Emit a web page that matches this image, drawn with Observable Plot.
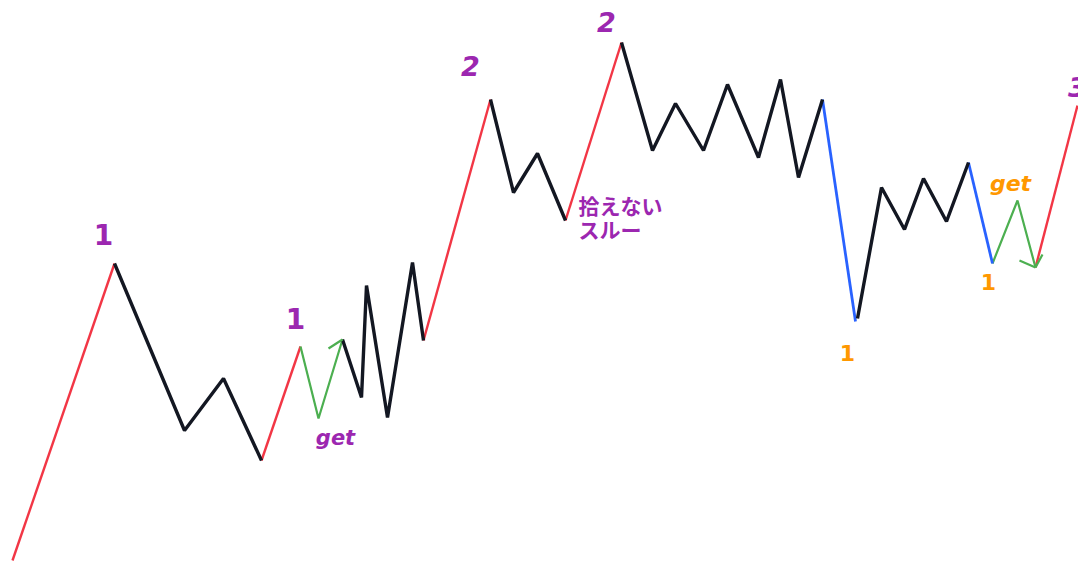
<!DOCTYPE html>
<html>
<head>
<meta charset="utf-8">
<script src="https://cdn.jsdelivr.net/npm/d3@7"></script>
<script src="https://cdn.jsdelivr.net/npm/@observablehq/plot@0.6"></script>
<style>
  html, body { margin: 0; padding: 0; background: #ffffff; }
  #chart svg { display: block; }
</style>
</head>
<body>
<div id="chart"></div>
<script>
// Legs of the zigzag: [x (bar), price] vertices, with leg type
const legTypes = ["up", "range", "up", "entry", "range", "up", "range", "up", "range", "down", "range", "down", "entry", "up"];
const legX = [
  [12, 114],
  [114, 184, 223, 261],
  [261, 300],
  [300, 318, 342],
  [342, 361, 366, 387, 412, 423],
  [423, 490],
  [490, 513, 537, 565],
  [565, 621],
  [621, 652, 675, 703, 727, 758, 780, 798, 822],
  [822, 855],
  [857, 881, 904, 923, 946, 968],
  [968, 992],
  [992, 1017, 1035],
  [1035, 1077]
];
// price = 561 - screen row
const legPrice = [
  [1, 298],
  [298, 131, 183, 101],
  [101, 215],
  [215, 143, 222],
  [222, 164, 276, 144, 299, 221],
  [221, 462],
  [462, 369, 408, 341],
  [341, 519],
  [519, 411, 458, 411, 477, 404, 482, 384, 462],
  [462, 240],
  [243, 374, 332, 383, 340, 399],
  [399, 298],
  [298, 361, 294],
  [294, 456]
];
// arrow barbs on the "get" entries
const barbX = [[328, 342], [1019, 1035], [1042, 1035]];
const barbPrice = [[213, 222], [301, 294], [307, 294]];

// Annotations
const labelText = ["1", "1", "get", "2", "2", "1", "get", "1", "3"];
const labelX = [103, 295, 335, 470, 606, 847, 1010, 988, 1077];
const labelPrice = [325, 241, 123, 494, 538, 208, 378, 279, 473];
const labelKind = ["num", "num", "get", "num2", "num2", "num-o", "get-o", "num-o", "num2"];
const noteLines = ["拾えない", "スルー"];
const noteX = 578;
const notePrice = 343;

const colors = { up: "#f23645", range: "#131722", entry: "#4caf50", down: "#2962ff" };
const widths = { up: 2.4, range: 3.4, entry: 2.2, down: 2.8 };

const pts = [];
legX.forEach((xs, i) => xs.forEach((x, j) => pts.push({ leg: i, type: legTypes[i], x, p: legPrice[i][j] })));
const barbs = barbX.map((xs, i) => ({ x1: xs[0], x2: xs[1], y1: barbPrice[i][0], y2: barbPrice[i][1] }));
const labels = labelText.map((t, i) => ({ t, x: labelX[i], p: labelPrice[i], k: labelKind[i] }));
const notes = [{ t: noteLines.join("\n"), x: noteX, p: notePrice }];

const marks = [];
for (const type of ["up", "entry", "down", "range"]) {
  marks.push(Plot.line(pts.filter(d => d.type === type), {
    x: "x", y: "p", z: "leg", stroke: colors[type], strokeWidth: widths[type],
    strokeLinejoin: "miter", strokeLinecap: "butt"
  }));
}
marks.push(Plot.link(barbs, { x1: "x1", y1: "y1", x2: "x2", y2: "y2", stroke: colors.entry, strokeWidth: 2.2 }));

const styleOf = {
  "num": { fill: "#9c27b0", size: 28, italic: false },
  "num2": { fill: "#9c27b0", size: 27, italic: true },
  "get": { fill: "#9c27b0", size: 21, italic: true },
  "num-o": { fill: "#ff9800", size: 22, italic: false },
  "get-o": { fill: "#ff9800", size: 22, italic: true }
};
for (const k of Object.keys(styleOf)) {
  const s = styleOf[k];
  marks.push(Plot.text(labels.filter(d => d.k === k), {
    x: "x", y: "p", text: "t", fill: s.fill, fontSize: s.size, fontWeight: "bold",
    fontStyle: s.italic ? "italic" : "normal", fontFamily: "DejaVu Sans", textAnchor: "middle"
  }));
}
marks.push(Plot.text(notes, {
  x: "x", y: "p", text: "t", fill: "#9c27b0", fontSize: 21, fontWeight: "bold",
  fontFamily: "Noto Sans CJK JP", textAnchor: "start", lineHeight: 1.12
}));

const chart = Plot.plot({
  width: 1078,
  height: 561,
  margin: 0,
  x: { domain: [0, 1078], range: [0, 1078], axis: null },
  y: { domain: [0, 561], range: [561, 0], axis: null },
  style: { background: "#ffffff", overflow: "hidden" },
  marks
});
document.getElementById("chart").appendChild(chart);
</script>
</body>
</html>
